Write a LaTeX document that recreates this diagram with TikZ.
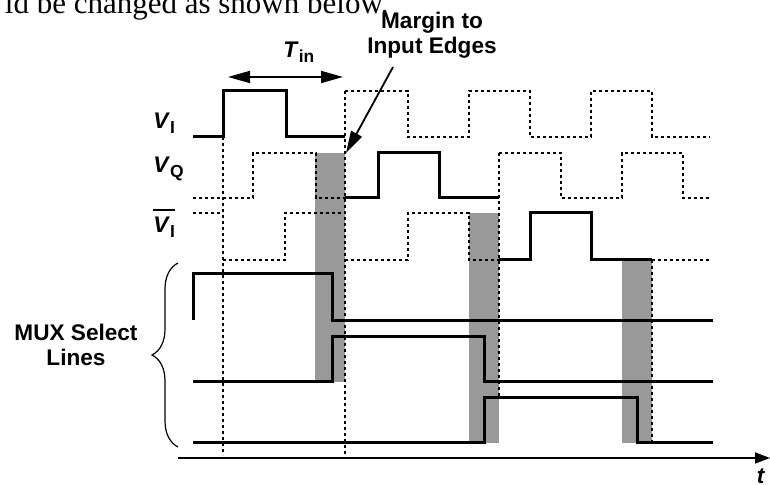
\documentclass[tikz,border=0pt]{standalone}
\usepackage{fontspec}
\setmainfont{Liberation Sans}
\newfontfamily\bodyserif{Liberation Serif}
\usepackage{tikz}
\usetikzlibrary{arrows.meta}
\usetikzlibrary{decorations.pathreplacing}
\usetikzlibrary{positioning}
\tikzset{>={Triangle[length=11pt,width=6pt]}}

\begin{document}
\begin{tikzpicture}[
        x=0.5pt, y=-0.5pt,
        solidwave/.style={line width=1.5pt},
        dashwave/.style={line width=0.75pt, dash pattern=on 1.7pt off 1.3pt},
        gapfill/.style={fill=black!40},
        pointer/.style={line width=0.9pt},
        timeaxis/.style={line width=0.8pt, -{Triangle[length=7.5pt,width=5.5pt]}},
        lbl/.style={inner sep=0pt, font=\bfseries\fontsize{11.3}{12.5}\selectfont}
    ]

    \useasboundingbox (0,0) rectangle (770,485);

    %=== Macros ===%
    % #1 = x of the input edge, #2 = top, #3 = bottom
    \newcommand{\gapbar}[3]{
        \fill[gapfill] (#1-30,#2) rectangle (#1,#3);
    }
    % #1 = letter, #2 = subscript
    \newcommand{\siglbl}[2]{\textit{#1}\raisebox{-0.35ex}{\fontsize{8.7}{8.7}\selectfont #2}}
    \newcommand{\barlbl}[2]{\vbox{\hrule height 1pt\kern 3pt\hbox{\siglbl{#1}{#2}}}}

    % text line above the figure
    \node[inner sep=0pt, anchor=base east, font=\bodyserif\fontsize{15.5}{18}\selectfont]
        (body) at (389,14) {ld be changed as shown below.};

    %=== Margins before each input edge ===%
    \gapbar{345}{153}{382}
    \gapbar{499}{213}{443}
    \gapbar{652}{260}{443}

    %=== Unused parts of the inputs ===%
    % V_I
    \draw[dashwave] (345,91) -- (408,91) -- (408,137) -- (469,137) -- (469,91) -- (530,91)
        -- (530,137) -- (591,137) -- (591,91) -- (652,91) -- (652,137) -- (710,137);
    % V_Q
    \draw[dashwave] (193,198) -- (253,198) -- (253,153) -- (316,153) -- (316,198) -- (345,198);
    \draw[dashwave] (499,153) -- (561,153) -- (561,198) -- (622,198) -- (622,153) -- (683,153)
        -- (683,198) -- (710,198);
    % V_I bar
    \draw[dashwave] (193,213) -- (223,213) (223,260) -- (285,260) -- (285,213) -- (345,213)
        (345,260) -- (408,260) -- (408,213) -- (469,213) -- (469,260) -- (499,260);
    \draw[dashwave] (652,260) -- (710,260);
    % edge markers
    \draw[dashwave] (223,137) -- (223,455);
    \draw[dashwave] (345,91) -- (345,455);
    \draw[dashwave] (499,153) -- (499,398);
    \draw[dashwave] (652,260) -- (652,443);

    %=== Selected parts of the inputs ===%
    \draw[solidwave] (193,137) -- (223,137) -- (223,91) -- (286,91) -- (286,137) -- (345,137);
    \draw[solidwave] (345,198) -- (378,198) -- (378,153) -- (439,153) -- (439,198) -- (499,198);
    \draw[solidwave] (499,260) -- (530,260) -- (530,213) -- (591,213) -- (591,260) -- (652,260);

    %=== MUX select lines ===%
    \draw[solidwave] (193,320) -- (193,274) -- (332,274) -- (332,321) -- (713,321);
    \draw[solidwave] (193,382) -- (332,382) -- (332,337) -- (484,337) -- (484,382) -- (713,382);
    \draw[solidwave] (193,443) -- (484,443) -- (484,398) -- (637,398) -- (637,443) -- (713,443);

    %=== Time axis ===%
    \coordinate (t0) at (178,458);
    \coordinate (tend) at (770,458);
    \draw[timeaxis] (t0) -- (tend);
    \node[lbl, anchor=base] (tlbl) at (761,483) {\textit{t}};

    %=== Signal names ===%
    \node[lbl, anchor=base west] (vi) at (153,129) {\siglbl{V}{I}};
    \node[lbl, anchor=base west] (vq) at (153,173) {\siglbl{V}{Q}};
    \node[lbl, anchor=base west] (vib) at (153,233) {\barlbl{V}{I}};

    %=== Brace ===%
    \coordinate (bbot) at (178,447);
    \coordinate (btop) at (178,263);
    \draw[decorate, decoration={brace, amplitude=13pt}, line width=0.6pt] (bbot) -- (btop);
    \node[lbl, align=center] (mux) at (76,345) {MUX Select\\Lines};

    %=== Input period ===%
    \coordinate (tinl) at (228,77);
    \coordinate (tinr) at (343,77);
    \draw[pointer, <->] (tinl) -- (tinr);
    \node[lbl, anchor=base west] (tin) at (283,58) {\siglbl{T}{in}};

    %=== Margin note ===%
    \node[lbl, align=center] (mlbl) at (432,35) {Margin to\\Input Edges};
    \coordinate (mtail) at (393,67);
    \coordinate (mtip) at (346,153);
    \draw[pointer, ->] (mtail) -- (mtip);

\end{tikzpicture}
\end{document}
